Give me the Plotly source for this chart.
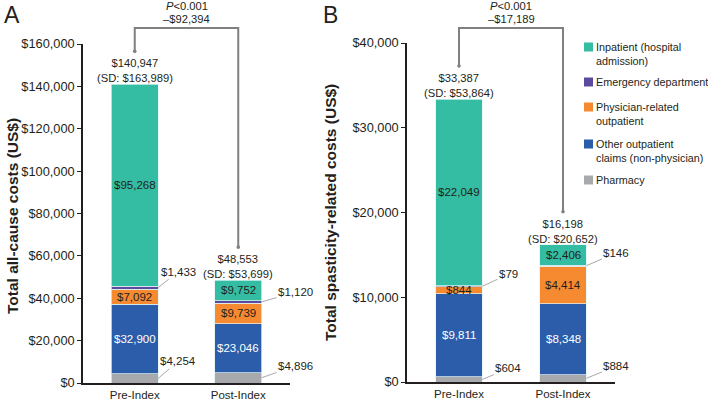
import plotly.graph_objects as go

# ---------------- data ----------------
periods = ["Pre-Index", "Post-Index"]
legend_labels = [
    "Inpatient (hospital<br>admission)",
    "Emergency department",
    "Physician-related<br>outpatient",
    "Other outpatient<br>claims (non-physician)",
    "Pharmacy",
]

allcause_pharmacy = [4254, 4896]
allcause_other_outpatient = [32900, 23046]
allcause_physician = [7092, 9739]
allcause_emergency = [1433, 1120]
allcause_inpatient = [95268, 9752]
allcause_total = [140947, 48553]
allcause_sd = [163989, 53699]
allcause_diff = -92394

spast_pharmacy = [604, 884]
spast_other_outpatient = [9811, 8348]
spast_physician = [844, 4414]
spast_emergency = [79, 146]
spast_inpatient = [22049, 2406]
spast_total = [33387, 16198]
spast_sd = [53864, 20652]
spast_diff = -17189

# ---------------- style ----------------
W, H = 708, 400
FONT = "Liberation Sans, Arial, Helvetica, sans-serif"
TXT = "#231F20"
COL_INP = "#34BDA2"
COL_ED = "#5C4A9E"
COL_PHY = "#F68A31"
COL_OTH = "#2B5DAA"
COL_PHA = "#A7A9AC"
BRACKET = "#808080"
LEADER = "#A8A8A8"
BAR_W = 0.45
FS = 11.2


def px(x):
    return x / W


def py(y):
    return 1 - y / H


panels = {
    "A": dict(xdom=(83, 290), ydom=(44, 383), ymax=160000, dtick=20000, xa="x", ya="y"),
    "B": dict(xdom=(407, 615), ydom=(43, 382), ymax=40000, dtick=10000, xa="x2", ya="y2"),
}


def val_to_py(panel, v):
    y0, y1 = panel["ydom"]
    return y1 - v / panel["ymax"] * (y1 - y0)


def idx_to_px(panel, i):
    x0, x1 = panel["xdom"]
    return x0 + (i + 0.5) / 2 * (x1 - x0)


fig = go.Figure()
annotations = []
shapes = []


def paper_text(x, y, text, size=FS, **kw):
    d = dict(x=px(x), y=py(y), xref="paper", yref="paper", text=text, showarrow=False,
             xanchor="center", yanchor="middle", font=dict(family=FONT, size=size, color=TXT))
    d.update(kw)
    annotations.append(d)


datasets = [
    ("A", [allcause_pharmacy, allcause_other_outpatient, allcause_physician, allcause_emergency, allcause_inpatient],
     allcause_total, allcause_sd, allcause_diff),
    ("B", [spast_pharmacy, spast_other_outpatient, spast_physician, spast_emergency, spast_inpatient],
     spast_total, spast_sd, spast_diff),
]
colors = [COL_PHA, COL_OTH, COL_PHY, COL_ED, COL_INP]
names = ["Pharmacy", "Other outpatient claims (non-physician)", "Physician-related outpatient",
         "Emergency department", "Inpatient (hospital admission)"]
# inside label text colours per segment (None = outside label with leader)
inside_col = [None, "white", TXT, None, TXT]

# leader offsets (px) for outside labels, per panel, per segment index, per period
leader_off = {
    "A": {0: [(20, -17), (34, -12)], 3: [(20, -16), (34, -10)]},
    "B": {0: [(26, -11), (30, -12)], 3: [(26, -12), (30, -13)]},
}

for key, segs, totals, sds, diff in datasets:
    p = panels[key]
    for s, (vals, c, n) in enumerate(zip(segs, colors, names)):
        fig.add_trace(go.Bar(
            x=[0, 1], y=vals, width=BAR_W, name=n, marker_color=c,
            marker_line=dict(color="rgba(225,242,245,0.9)", width=0.8),
            xaxis=p["xa"], yaxis=p["ya"], showlegend=False, hoverinfo="skip",
        ))
        for i in range(2):
            base = sum(segs[k][i] for k in range(s))
            mid = base + vals[i] / 2
            label = "${:,}".format(vals[i])
            if inside_col[s] is not None:
                annotations.append(dict(
                    x=i, y=mid, xref=p["xa"], yref=p["ya"], text=label, showarrow=False,
                    xanchor="center", yanchor="middle",
                    font=dict(family=FONT, size=FS + 0.3, color=inside_col[s]),
                ))
            else:
                ax, ay = leader_off[key][s][i]
                annotations.append(dict(
                    x=i + BAR_W / 2, y=mid, xref=p["xa"], yref=p["ya"], text=label,
                    showarrow=True, arrowhead=0, arrowwidth=1, arrowcolor=LEADER,
                    xanchor="center", yanchor="middle",
                    ax=ax, ay=ay, font=dict(family=FONT, size=FS + 0.3, color=TXT),
                ))
    # totals
    for i in range(2):
        annotations.append(dict(
            x=i, y=totals[i], xref=p["xa"], yref=p["ya"],
            text="${:,}<br>(SD: ${:,})".format(totals[i], sds[i]),
            showarrow=False, xanchor="center", yanchor="bottom", yshift=-2,
            font=dict(family=FONT, size=FS, color=TXT),
        ))
    # bracket
    xl = idx_to_px(p, 0)
    xr = idx_to_px(p, 1)
    yl = val_to_py(p, totals[0]) - 33
    yr = val_to_py(p, totals[1]) - 33
    ytop = 28
    shapes.append(dict(
        type="path", xref="paper", yref="paper",
        path="M {a},{b} L {a},{c} L {d},{c} L {d},{e}".format(
            a=px(xl), b=py(yl), c=py(ytop), d=px(xr), e=py(yr)),
        line=dict(color=BRACKET, width=2),
    ))
    for (xx, yy) in [(xl, yl), (xr, yr)]:
        shapes.append(dict(type="circle", xref="paper", yref="paper",
                           x0=px(xx - 1.8), x1=px(xx + 1.8), y0=py(yy + 1.8), y1=py(yy - 1.8),
                           fillcolor=BRACKET, line=dict(width=0)))
    xm = (xl + xr) / 2
    paper_text(xm, 6, "<i>P</i>&lt;0.001")
    paper_text(xm, 19, "\u2013${:,}".format(abs(diff)))

# panel letters
paper_text(12, 14.5, "A", size=23)
paper_text(330, 14.5, "B", size=23)

# y axis titles
paper_text(12, 216, "<b>Total all-cause costs (US$)</b>", size=15.5, textangle=-90)
paper_text(330, 213, "<b>Total spasticity-related costs (US$)</b>", size=15.5, textangle=-90)

# legend (manual)
leg_colors = [COL_INP, COL_ED, COL_PHY, COL_OTH, COL_PHA]
leg_y = [47, 82, 107, 144, 180]
for lab, c, yy in zip(legend_labels, leg_colors, leg_y):
    shapes.append(dict(type="rect", xref="paper", yref="paper",
                       x0=px(584), x1=px(593), y0=py(yy + 4.5), y1=py(yy - 4.5),
                       fillcolor=c, line=dict(width=0)))
    annotations.append(dict(x=px(594), y=py(yy - 8), xref="paper", yref="paper",
                            xanchor="left", yanchor="top", align="left", text=lab, showarrow=False,
                            font=dict(family=FONT, size=10.8, color=TXT)))

axis_common = dict(showline=True, linecolor=TXT, linewidth=1.5, showgrid=False, zeroline=False,
                   fixedrange=True, automargin=False)
layout_axes = {}
for key, p in panels.items():
    xn = "xaxis" if p["xa"] == "x" else "xaxis2"
    yn = "yaxis" if p["ya"] == "y" else "yaxis2"
    layout_axes[xn] = dict(domain=[px(p["xdom"][0]), px(p["xdom"][1])], range=[-0.5, 1.5],
                           tickvals=[0, 1], ticktext=periods, ticks="", anchor=p["ya"],
                           tickfont=dict(family=FONT, size=11.5, color=TXT), **axis_common)
    layout_axes[yn] = dict(domain=[py(p["ydom"][1]), py(p["ydom"][0])], range=[0, p["ymax"]],
                           dtick=p["dtick"], tickprefix="$", tickformat=",d", ticks="outside",
                           ticklen=4, tickwidth=1, tickcolor=TXT, anchor=p["xa"],
                           tickfont=dict(family=FONT, size=12.8, color=TXT), **axis_common)

fig.update_layout(
    width=W, height=H, margin=dict(l=0, r=0, t=0, b=0, autoexpand=False),
    paper_bgcolor="white", plot_bgcolor="white",
    barmode="stack", showlegend=False,
    annotations=annotations, shapes=shapes,
    font=dict(family=FONT, color=TXT),
    **layout_axes,
)

fig.write_html(
    "out.html",
    config={"displayModeBar": False, "responsive": False},
    post_script="document.body.style.margin='0px';document.body.style.overflow='hidden';",
)
